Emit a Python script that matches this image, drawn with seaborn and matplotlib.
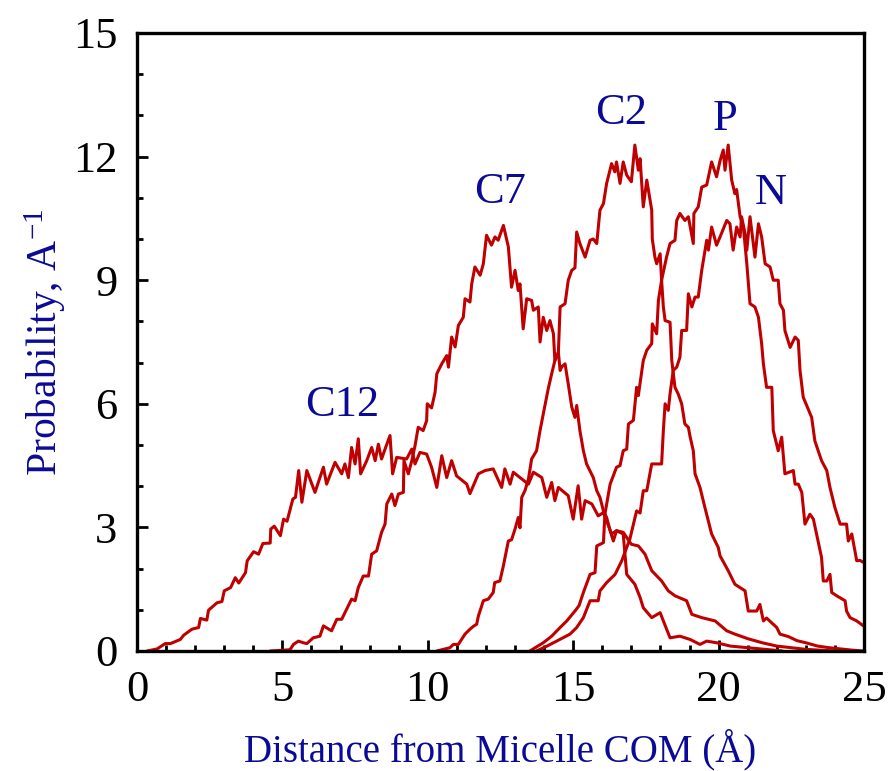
import numpy as np
import pandas as pd
import matplotlib
matplotlib.use("Agg")
import matplotlib.pyplot as plt
import seaborn as sns
from matplotlib.ticker import MultipleLocator

# ---------------- data ----------------
c12_x = [0.35, 0.69, 0.97, 1.15, 1.49, 1.6, 1.89, 2.12, 2.18, 2.4, 2.46, 2.75, 2.92, 3.0, 3.22, 3.38,
         3.5, 3.73, 3.79, 4.01, 4.18, 4.33, 4.58, 4.6, 4.72, 4.93, 5.04, 5.16, 5.36, 5.45, 5.56, 5.67,
         5.84, 6.12, 6.41, 6.52, 6.81, 7.04, 7.15, 7.27, 7.38, 7.5, 7.61, 7.69, 7.9, 8.07, 8.19, 8.3,
         8.41, 8.55, 8.7, 8.79, 8.93, 9.27, 9.45, 9.56, 9.73, 9.96, 10.13, 10.31, 10.48, 10.65, 10.82,
         10.99, 11.34, 11.45, 11.74, 11.97, 12.25, 12.54, 12.65, 12.83, 12.94, 13.17, 13.46, 13.63,
         13.92, 14.09, 14.26, 14.37, 14.49, 14.83, 15.0, 15.17, 15.29, 15.41, 15.64, 15.86, 16.04,
         16.32, 16.49, 16.72, 17.0, 17.24, 17.47, 17.7, 18.04, 18.27, 18.5, 18.9, 19.08, 19.42, 19.88,
         20.28, 20.56, 21.0, 21.5, 22.0, 22.5, 23.0, 23.5, 24.0]
c12_y = [0.0, 0.05, 0.18, 0.18, 0.28, 0.38, 0.53, 0.57, 0.79, 0.75, 0.99, 1.17, 1.2, 1.46, 1.54, 1.78,
         1.65, 1.9, 2.19, 2.41, 2.35, 2.61, 2.62, 2.96, 3.03, 2.8, 3.2, 3.15, 3.69, 3.73, 4.38, 3.61,
         4.38, 3.85, 4.46, 4.05, 4.58, 4.3, 4.54, 4.21, 4.94, 4.54, 5.15, 4.3, 4.62, 4.94, 4.62, 5.02,
         4.66, 4.94, 5.23, 4.3, 4.7, 4.66, 4.9, 4.54, 4.82, 4.78, 4.46, 3.97, 4.74, 4.21, 4.62,
         4.25, 4.05, 3.82, 4.3, 4.38, 4.42, 3.97, 4.42, 4.05, 4.34, 4.21, 4.05, 4.34,
         4.21, 3.73, 4.09, 3.65, 3.97, 3.77, 3.2, 4.01, 3.2, 3.65, 3.57, 3.28, 3.36,
         2.84, 2.92, 2.88, 2.59, 2.55, 2.35, 1.95, 1.7, 1.46, 1.34, 1.22, 0.89, 0.81, 0.73,
         0.49, 0.41, 0.3, 0.2, 0.12, 0.08, 0.04, 0.02, 0.0]

c7_x = [4.58, 5.26, 5.38, 5.55, 5.72, 5.84, 6.06, 6.29, 6.41, 6.69, 6.87, 7.04, 7.15, 7.38, 7.5, 7.61,
        7.78, 7.96, 8.07, 8.24, 8.41, 8.53, 8.59, 8.76, 8.87, 8.99, 9.16, 9.18, 9.33, 9.45, 9.56, 9.67,
        9.84, 9.96, 9.98, 10.13, 10.25, 10.31, 10.48, 10.65, 10.71, 10.82, 10.94, 11.05, 11.22, 11.28,
        11.45, 11.51, 11.62, 11.8, 11.91, 12.02, 12.19, 12.31, 12.42, 12.6, 12.77, 12.88, 13.0, 13.11,
        13.17, 13.28, 13.4, 13.57, 13.63, 13.8, 13.86, 13.97, 14.09, 14.2, 14.32, 14.37, 14.49, 14.55,
        14.61, 14.72, 14.83, 14.95, 15.06, 15.12, 15.23, 15.35, 15.46, 15.69, 15.81, 15.92, 16.04,
        16.15, 16.27, 16.38, 16.49, 16.72, 16.84, 17.12, 17.3, 17.41, 17.7, 17.99, 18.1, 18.33, 18.67,
        19.02, 19.36, 19.59, 19.93, 20.4, 21.0, 21.6, 22.2]
c7_y = [0.0, 0.03, 0.16, 0.24, 0.2, 0.18, 0.32, 0.36, 0.61, 0.49, 0.77, 0.77, 0.93, 1.26, 1.22, 1.54,
        1.82, 1.82, 2.35, 2.43, 2.88, 3.08, 3.57, 3.81, 3.53, 3.81, 3.85, 4.62, 4.3, 4.62, 4.98, 5.43,
        5.35, 5.59, 6.0, 5.9, 6.28, 6.73, 6.97, 7.17, 6.89, 7.62, 7.38, 7.9, 8.1, 8.55,
        8.47, 8.91, 9.32, 9.12, 9.4, 10.09, 9.85, 10.05, 9.97, 10.33, 9.81, 8.83, 9.24, 8.75,
        8.91, 7.82, 8.55, 8.51, 8.27, 8.35, 7.5, 8.1, 7.78, 8.02, 7.7, 7.05, 7.25, 6.81,
        6.9, 6.97, 6.48, 5.92, 5.67, 5.96, 5.35, 4.86, 4.54, 4.21, 3.89, 3.73, 3.4,
        3.24, 2.92, 2.67, 2.92, 2.84, 1.86, 1.62, 1.3, 1.05, 0.81, 0.93, 0.73, 0.32, 0.36,
        0.28, 0.16, 0.24, 0.2, 0.12, 0.08, 0.04, 0.0]

c2_x = [10.31, 10.76, 10.88, 11.05, 11.28, 11.45, 11.57, 11.68, 11.74, 11.91, 12.08, 12.25, 12.3,
        12.48, 12.6, 12.77, 12.88, 13.0, 13.11, 13.17, 13.23, 13.34, 13.46, 13.57, 13.74, 13.86, 13.97,
        14.14, 14.26, 14.37, 14.49, 14.55, 14.72, 14.83, 14.95, 15.06, 15.12, 15.23, 15.41, 15.58,
        15.69, 15.81, 15.92, 16.04, 16.15, 16.32, 16.43, 16.49, 16.61, 16.72, 16.84, 17.0, 17.12,
        17.24, 17.3, 17.41, 17.53, 17.7, 17.72, 17.81, 17.87, 17.99, 18.04, 18.1, 18.16, 18.33, 18.39,
        18.5, 18.61, 18.73, 18.84, 18.96, 19.02, 19.13, 19.19, 19.36, 19.53, 19.76, 19.99, 20.05,
        20.33, 20.56, 20.91, 21.02, 21.31, 21.42, 21.54, 21.65, 22.0, 22.11, 22.4, 22.7, 23.0, 23.4,
        23.8, 24.2, 24.6, 25.0]
c2_y = [0.0, 0.08, 0.16, 0.16, 0.41, 0.53, 0.6, 0.65, 0.85, 1.22, 1.26, 1.42, 1.66,
        1.7, 2.07, 2.67, 2.7, 2.96, 3.24, 2.99, 3.73, 3.89, 4.17, 4.66, 4.86, 5.35, 5.75,
        6.36, 6.73, 7.05, 7.25, 8.35, 8.43, 9.0, 9.24, 9.3, 10.17, 9.89, 9.56, 9.97,
        10.0, 9.89, 10.7, 10.86, 11.35, 11.83, 11.63, 11.87, 11.35, 11.87, 11.55, 11.39, 12.28,
        11.67, 11.95, 10.78, 11.43, 10.7, 10.0, 9.56, 9.4, 9.64, 9.0, 8.35, 8.02, 7.98, 7.05,
        6.4, 6.24, 6.0, 5.51, 5.43, 5.2, 4.86, 4.3, 3.97, 3.48, 2.84, 2.51, 2.31,
        1.95, 1.62, 1.46, 0.97, 0.97, 1.13, 0.73, 0.8, 0.57, 0.41, 0.35, 0.25, 0.2, 0.12,
        0.08, 0.05, 0.02, 0.0]

p_x = [13.51, 13.97, 14.26, 14.55, 14.78, 15.06, 15.2, 15.35, 15.58, 15.75, 15.81, 16.04, 16.09,
       16.27, 16.49, 16.61, 16.72, 16.84, 16.9, 17.07, 17.18, 17.24, 17.41, 17.53, 17.7, 17.72, 17.87,
       17.93, 18.04, 18.21, 18.33, 18.5, 18.56, 18.67, 18.84, 18.96, 19.13, 19.15, 19.3, 19.42, 19.59,
       19.76, 19.93, 20.05, 20.16, 20.22, 20.33, 20.45, 20.56, 20.62, 20.74, 20.85, 20.97, 21.08,
       21.25, 21.37, 21.48, 21.54, 21.65, 21.83, 21.88, 22.05, 22.17, 22.28, 22.57, 22.63, 22.74,
       22.86, 22.97, 23.14, 23.26, 23.54, 23.6, 23.72, 23.83, 23.89, 24.06, 24.35, 24.4, 24.52,
       24.75, 24.98]
p_y = [0.0, 0.2, 0.36, 0.57, 0.73, 0.97, 1.1, 1.42, 1.86, 1.9, 2.55, 2.63, 3.32,
       4.05, 4.46, 4.5, 4.86, 4.9, 5.51, 5.6, 6.4, 6.2, 7.05, 7.3, 7.46, 7.94, 7.7,
       8.51, 9.0, 9.56, 9.89, 9.97, 10.45, 10.62, 10.45, 10.54, 9.89, 10.62, 10.78, 11.26, 11.31,
       11.87, 11.51, 11.9, 12.16, 11.67, 12.28, 11.43, 11.1, 11.2, 10.54, 10.3, 9.4, 8.43,
       8.35, 8.1, 7.46, 6.97, 6.4, 6.4, 5.35, 4.86, 5.19, 4.3, 4.38, 4.05, 4.05,
       3.85, 3.08, 3.32, 3.2, 2.27, 1.7, 1.7, 1.86, 1.42, 1.34, 1.22, 0.97, 0.81,
       0.73, 0.61]

n_x = [13.74, 14.1, 14.43, 14.89, 15.12, 15.35, 15.58, 15.86, 15.92, 16.15, 16.44, 16.67, 16.95,
       17.18, 17.3, 17.41, 17.53, 17.7, 18.04, 18.1, 18.16, 18.27, 18.33, 18.44, 18.56, 18.67, 18.73,
       18.9, 18.96, 19.08, 19.19, 19.3, 19.42, 19.59, 19.65, 19.76, 19.93, 20.05, 20.28, 20.39, 20.5,
       20.62, 20.74, 20.79, 20.91, 20.97, 21.08, 21.25, 21.37, 21.48, 21.6, 21.77, 21.88, 22.05,
       22.11, 22.23, 22.28, 22.46, 22.63, 22.74, 22.8, 22.91, 23.2, 23.31, 23.54, 23.72, 23.83, 24.0,
       24.18, 24.4, 24.46, 24.58, 24.75, 24.86, 24.98]
n_y = [0.0, 0.12, 0.24, 0.41, 0.57, 0.81, 1.22, 1.22, 1.46, 1.66, 1.86, 2.19, 2.72,
       3.4, 3.35, 3.89, 3.89, 4.54, 4.54, 5.35, 6.0, 5.84, 6.24, 6.81, 6.89, 7.13, 7.78,
       7.78, 8.67, 8.35, 8.59, 8.59, 9.24, 9.97, 9.73, 10.29, 9.85, 10.05, 10.45, 10.37, 9.73,
       10.29, 10.05, 10.54, 10.13, 9.73, 10.54, 9.56, 10.37, 10.05, 9.4, 9.32, 9.0, 9.0,
       8.43, 8.27, 7.78, 7.37, 7.62, 7.54, 6.81, 6.16, 5.67, 5.1, 4.62, 4.38, 3.97, 3.48,
       3.08, 3.08, 2.67, 2.84, 2.19, 2.2, 2.15]

curve_names = ["C12", "C7", "C2", "P", "N"]
x_ticks = [0, 5, 10, 15, 20, 25]
y_ticks = [0, 3, 6, 9, 12, 15]

# ---------------- figure ----------------
sns.set_style("ticks")
plt.rcParams["font.family"] = ["Liberation Serif", "DejaVu Serif"]
plt.rcParams["mathtext.fontset"] = "custom"
plt.rcParams["mathtext.rm"] = "Liberation Serif"
plt.rcParams["mathtext.it"] = "Liberation Serif:italic"

LINE = "#C00000"
NAVY = "#0A0A96"

df = pd.concat([
    pd.DataFrame({"x": xs, "y": ys, "curve": name})
    for name, xs, ys in zip(curve_names, [c12_x, c7_x, c2_x, p_x, n_x],
                            [c12_y, c7_y, c2_y, p_y, n_y])
], ignore_index=True)

fig = plt.figure(figsize=(8.88, 7.71), dpi=100)
ax = fig.add_axes([137 / 888, 1 - 651 / 771, (864 - 137) / 888, (651 - 33) / 771])

sns.lineplot(data=df, x="x", y="y", units="curve", estimator=None, sort=False,
             color=LINE, linewidth=2.2, ax=ax, legend=False)

ax.set_xlim(0, 25)
ax.set_ylim(0, 15)
ax.set_xticks(x_ticks)
ax.set_yticks(y_ticks)
ax.xaxis.set_minor_locator(MultipleLocator(1))
ax.yaxis.set_minor_locator(MultipleLocator(1))
ax.tick_params(which="both", direction="in", top=False, right=False, width=2, colors="black")
ax.tick_params(which="major", length=8, labelsize=32)
ax.tick_params(which="minor", length=4)
ax.tick_params(axis="x", which="major", pad=14)
ax.tick_params(axis="y", which="major", pad=14)
for s in ax.spines.values():
    s.set_visible(True)
    s.set_linewidth(2.4)
    s.set_color("black")

ax.set_xlabel("Distance from Micelle COM (Å)", fontsize=28, color=NAVY, labelpad=13)
ax.set_ylabel("Probability, A$^{\\mathrm{-1}}$", fontsize=30, color=NAVY, labelpad=4)

labels = [("C12", 7.05, 5.71), ("C7", 12.48, 10.87), ("C2", 16.64, 12.79),
          ("P", 20.22, 12.64), ("N", 21.8, 10.84)]
for txt, lx, ly in labels:
    ax.text(lx, ly, txt, fontsize=32, color=NAVY, ha="center", va="baseline")

fig.savefig("out.png", dpi=100)
